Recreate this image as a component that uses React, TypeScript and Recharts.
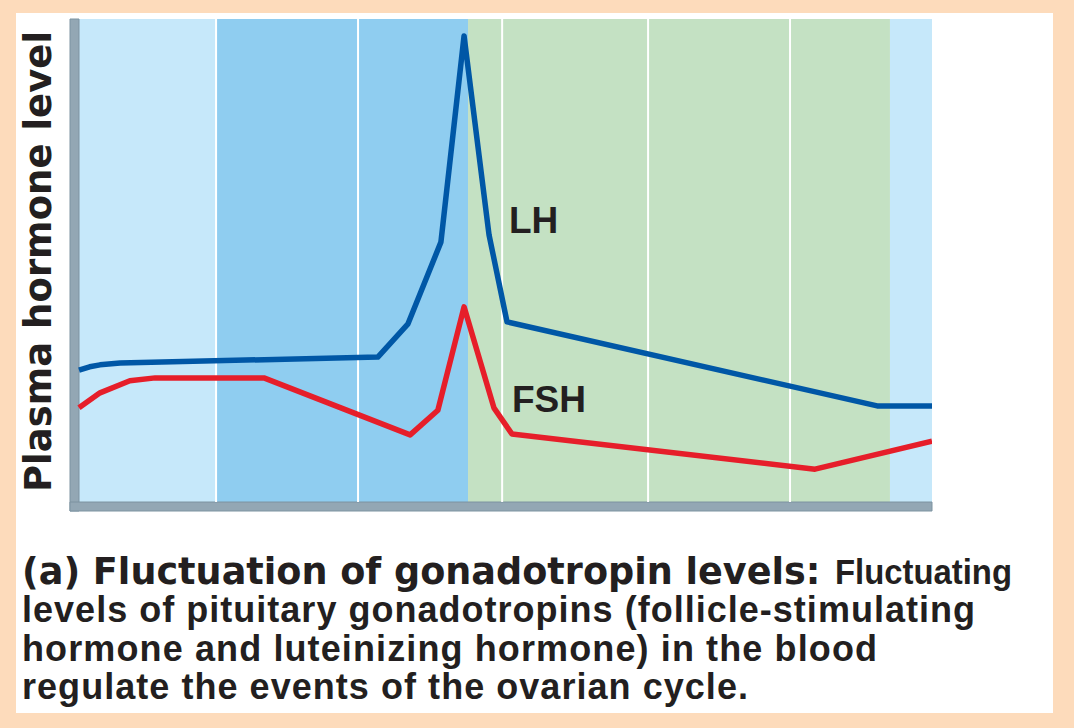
import React from 'react';
import { LineChart, Line, XAxis, YAxis, ReferenceArea, ReferenceLine } from 'recharts';

// cycle days (x) and relative plasma level (y, 0-100)
const lhDays = [0, 0.35, 0.69, 1.35, 9.81, 10.8, 11.88, 12.64, 13.46, 14.05, 26.2, 28];
const lhLevels = [27.3, 28.0, 28.4, 28.8, 30.0, 36.9, 53.8, 96.5, 55.3, 37.3, 19.9, 19.9];

const fshDays = [0, 0.69, 1.67, 2.5, 6.07, 10.87, 11.78, 12.64, 13.62, 14.21, 24.16, 28];
const fshLevels = [19.5, 22.6, 25.1, 25.7, 25.7, 13.9, 19.0, 40.4, 19.5, 14.1, 6.8, 12.6];

// background phase bands
const bandStarts = [0, 4.5, 9.16, 12.77, 26.62];
const bandEnds = [4.5, 9.16, 12.77, 26.62, 28];
const bandColors = ['#C6E8FA', '#8FCDF0', '#8FCDF0', '#C4E1C3', '#C6E8FA'];
const dividers = [4.5, 9.16, 13.89, 18.68, 23.34];

const captionLines = [
  'levels of pituitary gonadotropins (follicle-stimulating',
  'hormone and luteinizing hormone) in the blood',
  'regulate the events of the ovarian cycle.',
];
const captionWidths = [953, 855, 726];

const X_MIN = -0.295;
const Y_MIN = -1.86;

const lhData = lhDays.map((d, i) => ({ d, v: lhLevels[i] }));
const fshData = fshDays.map((d, i) => ({ d, v: fshLevels[i] }));

const helv = '"Liberation Sans", Arial, sans-serif';
const heavy = '"DejaVu Sans", sans-serif';
const ink = '#231F20';

export default function App() {
  return (
    <div style={{ position: 'absolute', left: 0, top: 0, width: 1074, height: 728, background: '#FDDBBB', overflow: 'hidden' }}>
      <div style={{ position: 'absolute', left: 16, top: 13, width: 1037, height: 700, background: '#FFFFFF' }} />
      <div style={{ position: 'absolute', left: 0, top: 0 }}>
        <LineChart width={1074} height={728} margin={{ top: 19, left: 70, right: 142, bottom: 217 }}>
          <XAxis dataKey="d" type="number" domain={[X_MIN, 28]} allowDataOverflow hide />
          <YAxis type="number" domain={[Y_MIN, 100]} allowDataOverflow hide />
          {bandStarts.map((s, i) => (
            <ReferenceArea key={'b' + i} x1={s} x2={bandEnds[i]} y1={0} y2={100} fill={bandColors[i]} fillOpacity={1} stroke="none" />
          ))}
          {dividers.map((x) => (
            <ReferenceLine key={'l' + x} segment={[{ x, y: 0 }, { x, y: 100 }]} stroke="#FFFFFF" strokeWidth={2} />
          ))}
          <ReferenceArea x1={X_MIN} x2={0} y1={Y_MIN} y2={100} fill="#93A7B4" fillOpacity={1} stroke="#7D93A1" strokeWidth={1} />
          <ReferenceArea x1={X_MIN} x2={28} y1={Y_MIN} y2={0} fill="#93A7B4" fillOpacity={1} stroke="#7D93A1" strokeWidth={1} />
          <Line data={fshData} dataKey="v" type="linear" stroke="#E61E2A" strokeWidth={5.5} dot={false} strokeLinejoin="round" isAnimationActive={false} />
          <Line data={lhData} dataKey="v" type="linear" stroke="#0057A6" strokeWidth={5.5} dot={false} strokeLinejoin="round" isAnimationActive={false} />
        </LineChart>
      </div>
      <svg width={1074} height={728} style={{ position: 'absolute', left: 0, top: 0, pointerEvents: 'none' }}>
        <text transform="translate(51,261.5) rotate(-90)" textAnchor="middle" fontFamily={heavy} fontWeight="bold" fontSize={37} fill={ink}>
          Plasma hormone level
        </text>
        <text x={509} y={233} fontFamily={helv} fontWeight="bold" fontSize={37} fill={ink}>LH</text>
        <text x={512} y={412} fontFamily={helv} fontWeight="bold" fontSize={37} fill={ink}>FSH</text>
        <text x={22} y={584} fontFamily={heavy} fontWeight="bold" fontSize={36.6} fill={ink}>
          (a) Fluctuation of gonadotropin levels:
        </text>
        <text x={835} y={584} fontFamily={helv} fontWeight="bold" fontSize={35} fill={ink} textLength={177} lengthAdjust="spacingAndGlyphs">
          Fluctuating
        </text>
        {captionLines.map((t, i) => (
          <text key={t} x={22} y={622 + i * 38.5} fontFamily={helv} fontWeight="bold" fontSize={36} fill={ink}
            textLength={captionWidths[i]} lengthAdjust="spacing">{t}</text>
        ))}
        <rect x={0} y={713} width={1074} height={15} fill="#FDDBBB" />
      </svg>
    </div>
  );
}
